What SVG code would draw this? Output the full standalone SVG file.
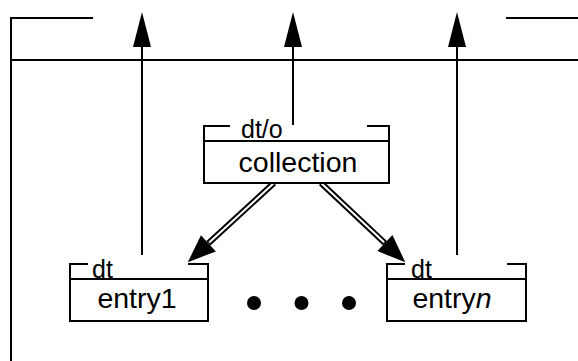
<svg xmlns="http://www.w3.org/2000/svg" width="578" height="361" viewBox="0 0 578 361">
  <style>
    .ln { fill: none; stroke: #000; stroke-width: 2; }
    .box { fill: #fff; stroke: #000; stroke-width: 2; }
    .name { font-family: "Liberation Sans", Arial, sans-serif; font-size: 28.5px; fill: #000; }
    .tag { font-family: "Liberation Sans", Arial, sans-serif; font-size: 25px; fill: #000; }
    .dbl-outer { fill: none; stroke: #000; stroke-width: 6; }
    .dbl-inner { fill: none; stroke: #fff; stroke-width: 2; }
  </style>
  <defs>
    <marker id="head" markerUnits="userSpaceOnUse" orient="auto" refX="0" refY="0" markerWidth="40" markerHeight="20" overflow="visible">
      <path d="M0,-9 L35,0 L0,9 Z" fill="#000"/>
    </marker>
    <marker id="head-wide" markerUnits="userSpaceOnUse" orient="auto" refX="0" refY="0" markerWidth="30" markerHeight="24" overflow="visible">
      <path d="M0,-11 L28,0 L0,11 Z" fill="#000"/>
    </marker>
  </defs>

  <!-- enclosing frame -->
  <g id="frame">
    <path class="ln" d="M93,18 H11 V361"/>
    <path class="ln" d="M506,18 H578"/>
    <path class="ln" d="M11,60 H578"/>
  </g>

  <!-- connectors -->
  <g id="connectors">
    <line class="ln" x1="142" y1="255" x2="142" y2="47" marker-end="url(#head)"/>
    <line class="ln" x1="293" y1="125" x2="293" y2="47" marker-end="url(#head)"/>
    <line class="ln" x1="457" y1="255" x2="457" y2="47" marker-end="url(#head)"/>

    <line class="dbl-outer" x1="274" y1="183" x2="208.4" y2="243.3" marker-end="url(#head-wide)"/>
    <line class="dbl-inner" x1="274" y1="183" x2="209.2" y2="242.5"/>
    <line class="dbl-outer" x1="321" y1="183" x2="384.9" y2="243.1" marker-end="url(#head-wide)"/>
    <line class="dbl-inner" x1="321" y1="183" x2="384.1" y2="242.3"/>
  </g>

  <!-- collection -->
  <g id="collection">
    <rect class="box" x="204" y="141" width="185" height="42"/>
    <path class="ln" d="M230,126 H204 V141"/>
    <path class="ln" d="M367,126 H389 V141"/>
    <text class="tag" x="241" y="137.5">dt/o</text>
    <text class="name" x="298" y="172" text-anchor="middle">collection</text>
  </g>

  <!-- entry1 -->
  <g id="entry1">
    <rect class="box" x="70" y="279" width="138" height="42"/>
    <path class="ln" d="M88,264 H70 V279"/>
    <path class="ln" d="M188,264 H208 V279"/>
    <text class="tag" x="92" y="277.5">dt</text>
    <text class="name" x="137" y="308" text-anchor="middle">entry1</text>
  </g>

  <!-- ellipsis -->
  <g id="ellipsis">
    <circle cx="254" cy="303" r="7"/>
    <circle cx="301.5" cy="303" r="7"/>
    <circle cx="349" cy="303" r="7"/>
  </g>

  <!-- entry n -->
  <g id="entryn">
    <rect class="box" x="387" y="279" width="139" height="42"/>
    <path class="ln" d="M405,264 H387 V279"/>
    <path class="ln" d="M507,264 H526 V279"/>
    <text class="tag" x="411" y="277.5">dt</text>
    <text class="name" x="452" y="308" text-anchor="middle">entry<tspan font-style="italic">n</tspan></text>
  </g>
</svg>
